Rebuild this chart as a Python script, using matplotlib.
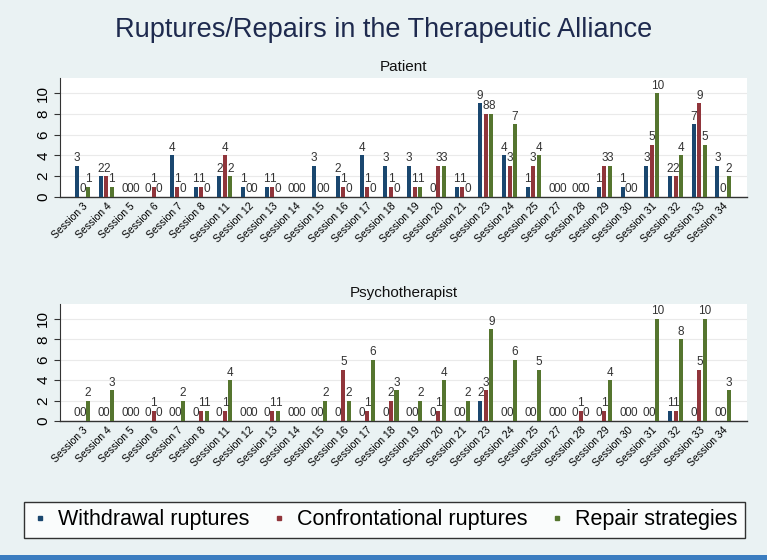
import matplotlib
matplotlib.use("Agg")
import matplotlib.pyplot as plt
import numpy as np
from matplotlib.lines import Line2D
from matplotlib.patches import Rectangle

plt.rcParams['font.family'] = ['Liberation Sans', 'DejaVu Sans']

sessions = [3, 4, 5, 6, 7, 8, 11, 12, 13, 14, 15, 16, 17, 18, 19, 20, 21,
            23, 24, 25, 27, 28, 29, 30, 31, 32, 33, 34]
labels = [f"Session {s}" for s in sessions]

series_names = ["Withdrawal ruptures", "Confrontational ruptures", "Repair strategies"]
colors = ["#1a476f", "#90353b", "#55752f"]

patient_withdrawal = [3, 2, 0, 0, 4, 1, 2, 1, 1, 0, 3, 2, 4, 3, 3, 0, 1,
                      9, 4, 1, 0, 0, 1, 1, 3, 2, 7, 3]
patient_confront = [0, 2, 0, 1, 1, 1, 4, 0, 1, 0, 0, 1, 1, 1, 1, 3, 1,
                    8, 3, 3, 0, 0, 3, 0, 5, 2, 9, 0]
patient_repair = [1, 1, 0, 0, 0, 0, 2, 0, 0, 0, 0, 0, 0, 0, 1, 3, 0,
                  8, 7, 4, 0, 0, 3, 0, 10, 4, 5, 2]

psy_withdrawal = [0, 0, 0, 0, 0, 0, 0, 0, 0, 0, 0, 0, 0, 0, 0, 0, 0,
                  2, 0, 0, 0, 0, 0, 0, 0, 1, 0, 0]
psy_confront = [0, 0, 0, 1, 0, 1, 1, 0, 1, 0, 0, 5, 1, 2, 0, 1, 0,
                3, 0, 0, 0, 1, 1, 0, 0, 1, 5, 0]
psy_repair = [2, 3, 0, 0, 2, 1, 4, 0, 1, 0, 2, 2, 6, 3, 2, 4, 2,
              9, 6, 5, 0, 0, 4, 0, 10, 8, 10, 3]

W, H = 767, 560
fig = plt.figure(figsize=(W / 100, H / 100), dpi=100)
fig.patch.set_facecolor("#eaf2f3")

fig.text(0.5, 1 - 30 / H, "Ruptures/Repairs in the Therapeutic Alliance",
         ha="center", va="center", fontsize=19.5, color="#1e2a4e")

def make_panel(rect, title, data):
    ax = fig.add_axes(rect)
    ax.set_facecolor("white")
    x = np.arange(len(sessions))
    off = 0.235
    bw = 0.17
    for k, vals in enumerate(data):
        xs = x + (k - 1) * off
        ax.bar(xs, vals, width=bw, color=colors[k], zorder=3)
        for xi, v in zip(xs, vals):
            ax.text(xi, v + 0.15, str(v), ha="center", va="bottom",
                    fontsize=8.5, color="#333333", zorder=4)
    ax.set_xlim(-0.95, len(sessions) - 1 + 1.01)
    ax.set_ylim(0, 11.45)
    ax.set_yticks([0, 2, 4, 6, 8, 10])
    ax.set_yticklabels(["0", "2", "4", "6", "8", "10"], rotation=90,
                       va="center", fontsize=11)
    ax.yaxis.grid(True, color="#eaeaea", linewidth=0.8, zorder=0)
    ax.set_xticks(x)
    ax.set_xticklabels(labels, rotation=45, ha="right",
                       rotation_mode="anchor", fontsize=7.5)
    ax.tick_params(axis="x", length=0, pad=3)
    ax.tick_params(axis="y", length=4, width=0.8, pad=3, color="#333333")
    for s in ["top", "right"]:
        ax.spines[s].set_visible(False)
    ax.spines["left"].set_color("#333333")
    ax.spines["bottom"].set_color("#333333")
    ax.spines["left"].set_linewidth(0.8)
    ax.spines["bottom"].set_linewidth(1.0)
    ax.set_title(title, fontsize=11, color="#111111", pad=5)
    return ax

make_panel([60 / W, 1 - 197 / H, 687 / W, 119 / H], "Patient",
           [patient_withdrawal, patient_confront, patient_repair])
make_panel([60 / W, 1 - 421 / H, 687 / W, 117 / H], "Psychotherapist",
           [psy_withdrawal, psy_confront, psy_repair])

handles = [Line2D([], [], marker="s", linestyle="none", markersize=3.5,
                  markerfacecolor=c, markeredgecolor=c) for c in colors]
leg = fig.legend(handles, series_names, loc="center",
                 bbox_to_anchor=(24 / W, 1 - 540 / H, 721 / W, 40 / H),
                 mode="expand", ncol=3, frameon=True, fancybox=False,
                 edgecolor="black", fontsize=15.5, borderaxespad=0,
                 handlelength=0.8, handletextpad=0.45, borderpad=0.35)
leg.get_frame().set_linewidth(1.0)

fig.patches.append(Rectangle((0, 0), 1, 5 / H, transform=fig.transFigure,
                             facecolor="#3b7dc0", edgecolor="none"))

fig.savefig("out.png", dpi=100, facecolor=fig.get_facecolor())
